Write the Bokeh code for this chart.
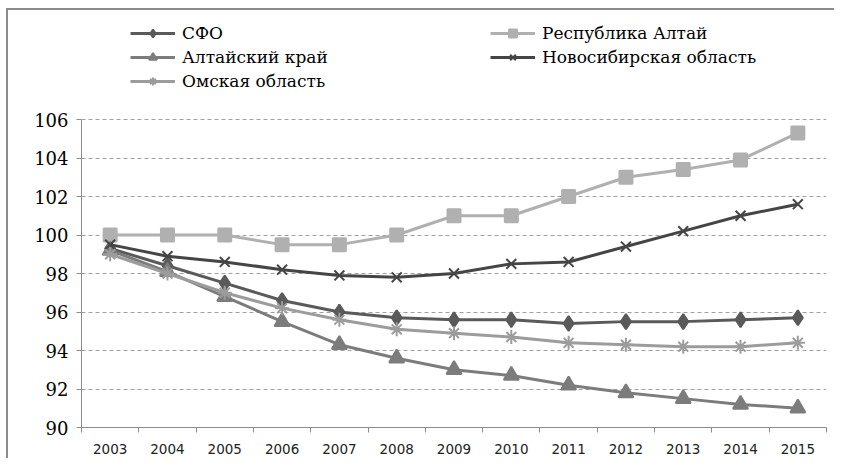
from bokeh.plotting import figure
from bokeh.models import Range1d, FixedTicker, Legend, LegendItem
from bokeh.embed import file_html
from bokeh.resources import INLINE

years = [2003, 2004, 2005, 2006, 2007, 2008, 2009, 2010, 2011, 2012, 2013, 2014, 2015]
sfo = [99.3, 98.4, 97.5, 96.6, 96.0, 95.7, 95.6, 95.6, 95.4, 95.5, 95.5, 95.6, 95.7]
altai_rep = [100.0, 100.0, 100.0, 99.5, 99.5, 100.0, 101.0, 101.0, 102.0, 103.0, 103.4, 103.9, 105.3]
altai_krai = [99.2, 98.1, 96.8, 95.5, 94.3, 93.6, 93.0, 92.7, 92.2, 91.8, 91.5, 91.2, 91.0]
novosib = [99.5, 98.9, 98.6, 98.2, 97.9, 97.8, 98.0, 98.5, 98.6, 99.4, 100.2, 101.0, 101.6]
omsk = [99.0, 98.0, 97.0, 96.2, 95.6, 95.1, 94.9, 94.7, 94.4, 94.3, 94.2, 94.2, 94.4]
y_ticks = [90, 92, 94, 96, 98, 100, 102, 104, 106]

names = ["СФО", "Республика Алтай", "Алтайский край", "Новосибирская область", "Омская область"]
series = [sfo, altai_rep, altai_krai, novosib, omsk]
colors = ["#5a5a5a", "#b0b0b0", "#7c7c7c", "#454545", "#9c9c9c"]
markers = ["diamond", "square", "triangle", "x", "asterisk"]
msizes = [15, 13, 15, 14, 14]

xs = [i + 0.5 for i in range(len(years))]

# frame spans from just under the top border to the x axis; the space above 106 holds the legend
y_lo, y_hi = y_ticks[0], y_ticks[-1]
y_top = y_hi + (y_hi - y_lo) * 107 / 308

p = figure(width=828, height=450, output_backend="svg", toolbar_location=None,
           x_range=Range1d(0, len(years)), y_range=Range1d(y_lo, y_top),
           min_border_left=73, min_border_right=10, min_border_top=2, min_border_bottom=33)
p.margin = (10, 0, 0, 8)
p.styles = {"box-shadow": "-2px -2px 0 0 #8c8c8c"}
p.outline_line_color = None
p.background_fill_color = "white"
p.border_fill_color = "white"

p.xgrid.grid_line_color = None
p.ygrid.grid_line_color = "#a0a0a0"
p.ygrid.grid_line_dash = "4 3"
p.ygrid.ticker = FixedTicker(ticks=y_ticks)

p.yaxis.ticker = FixedTicker(ticks=y_ticks)
p.yaxis.bounds = (y_lo, y_hi)
p.yaxis.axis_line_color = "#8c8c8c"
p.yaxis.major_tick_line_color = "#8c8c8c"
p.yaxis.major_tick_out = 5
p.yaxis.major_tick_in = 0
p.yaxis.minor_tick_line_color = None
p.yaxis.major_label_text_font = "DejaVu Serif"
p.yaxis.major_label_text_font_size = "18px"
p.yaxis.major_label_text_color = "#000000"
p.yaxis.major_label_standoff = 8

p.xaxis.ticker = FixedTicker(ticks=xs, minor_ticks=list(range(len(years) + 1)))
p.xaxis.major_label_overrides = {x: str(y) for x, y in zip(xs, years)}
p.xaxis.axis_line_color = "#8c8c8c"
p.xaxis.major_tick_line_color = None
p.xaxis.minor_tick_line_color = "#8c8c8c"
p.xaxis.minor_tick_out = 5
p.xaxis.minor_tick_in = 0
p.xaxis.major_label_text_font = "DejaVu Sans"
p.xaxis.major_label_text_font_size = "13.5px"
p.xaxis.major_label_text_color = "#222222"
p.xaxis.major_label_standoff = 10

items = []
for name, vals, col, mk, ms in zip(names, series, colors, markers, msizes):
    lr = p.line(xs, vals, line_color=col, line_width=3)
    sr = p.scatter(xs, vals, marker=mk, size=ms, fill_color=col, line_color=col, line_width=2)
    items.append(LegendItem(label=name, renderers=[lr, sr]))

legend = Legend(items=items, orientation="horizontal", ncols=2,
                location=(49, 336), padding=0, spacing=4,
                glyph_width=45, glyph_height=20, label_height=20, label_width=304,
                label_standoff=7, border_line_color=None, background_fill_alpha=0,
                label_text_font="DejaVu Serif", label_text_font_size="17px",
                label_text_color="#000000", margin=0)
p.add_layout(legend, "center")

open("out.html", "w").write(file_html(p, INLINE))
